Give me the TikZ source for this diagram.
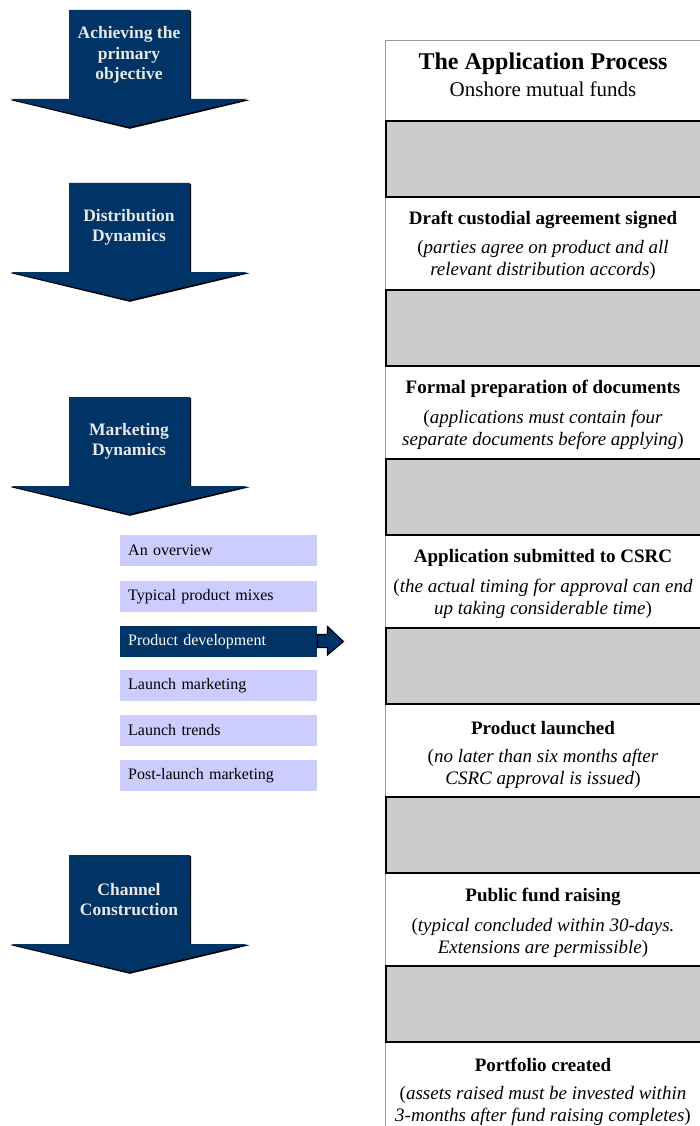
\documentclass[tikz,border=0pt]{standalone}
\usepackage{fontspec}
\setmainfont{Liberation Serif}
\definecolor{navy}{HTML}{003366}
\definecolor{lav}{HTML}{CCCCFF}
\definecolor{boxgray}{HTML}{CCCCCC}
\definecolor{linegray}{HTML}{999999}
\definecolor{arrowtxt}{HTML}{E8E8E8}
\newcommand\navyarrow[2]{%
  \begin{scope}[shift={(0,#1)}]
    \fill[black] (70.5,1.2) -- (191.2,1.2) -- (191.2,90.2) -- (249.5,90.2) -- (129.8,118.8) -- (10.8,90.2) -- (70.5,90.2) -- cycle;
    \fill[navy] (69,0) -- (190,0) -- (190,89) -- (248,89) -- (129,117) -- (10,89) -- (69,89) -- cycle;
  \end{scope}}
\begin{document}
\begin{tikzpicture}[x=1pt,y=-1pt,
  arrowtext/.style={align=center,text=arrowtxt,font=\bfseries\fontsize{17.5}{20.5}\selectfont,inner sep=0pt},
  graybox/.style={draw=black,line width=1.6pt,fill=boxgray},
  steptitle/.style={font=\bfseries\fontsize{19}{22}\selectfont,inner sep=0pt},
  stepdesc/.style={align=center,font=\itshape\fontsize{19}{22}\selectfont,inner sep=0pt},
  menu/.style={anchor=west,fill=lav,minimum height=31pt,text width=181pt,inner xsep=8pt,inner ysep=0pt,align=left,font=\fontsize{16}{18}\selectfont},
  menusel/.style={menu,fill=navy,text=white},
  smallarrow/.style={draw=black,line width=1.2pt,fill=navy,line join=miter}]
\useasboundingbox (0,0) rectangle (700,1126);
\clip (0,0) rectangle (700,1126);
\fill[white] (0,0) rectangle (700,1126);

% left arrows
\navyarrow{10}{}
\node[arrowtext] (a1) at (129,55) {Achieving the\\primary\\objective};
\navyarrow{183}{}
\node[arrowtext] (a2) at (129,227.5) {Distribution\\Dynamics};
\navyarrow{397}{}
\node[arrowtext] (a3) at (129,441.5) {Marketing\\Dynamics};
\navyarrow{855}{}
\node[arrowtext] (a4) at (129,899.5) {Channel\\Construction};

% menu
\node[menu] (m1) at (120,550.5) {An overview};
\node[menu] (m2) at (120,596.5) {Typical product mixes};
\node[menusel] (m3) at (120,641.5) {Product development};
\node[menu] (m4) at (120,685.5) {Launch marketing};
\node[menu] (m5) at (120,730.5) {Launch trends};
\node[menu] (m6) at (120,775.5) {Post-launch marketing};
\draw[smallarrow] (m3.east) ++(0,-7) -- ++(10,0) -- ++(0,-8) -- ++(16,15) -- ++(-16,13.5) -- ++(0,-7.5) -- ++(-10,0) -- cycle;

% right column
\draw[linegray,line width=0.8pt] (385,40) rectangle (710,1140);
\draw[linegray,line width=0.8pt] (385,120) -- (710,120);
\node[font=\bfseries\fontsize{24}{26}\selectfont,inner sep=0pt] (hd) at (543,63.5) {The Application Process};
\node[font=\fontsize{21}{24}\selectfont,inner sep=0pt] (sub) at (543,89) {Onshore mutual funds};

\foreach \k in {0,...,5} {
  \draw[graybox] (386,121+169*\k) rectangle (710,197+169*\k);
}

\node[steptitle] (t1) at (543,220) {Draft custodial agreement signed};
\node[stepdesc] (d1) at (543,260) {\textup{(}parties agree on product and all\\relevant distribution accords\textup{)}};
\node[steptitle] (t2) at (543,389) {Formal preparation of documents};
\node[stepdesc] (d2) at (543,430) {\textup{(}applications must contain four\\separate documents before applying\textup{)}};
\node[steptitle] (t3) at (543,558) {Application submitted to CSRC};
\node[stepdesc] (d3) at (543,599) {\textup{(}the actual timing for approval can end\\up taking considerable time\textup{)}};
\node[steptitle] (t4) at (543,728) {Product launched};
\node[stepdesc] (d4) at (543,769) {\textup{(}no later than six months after\\CSRC approval is issued\textup{)}};
\node[steptitle] (t5) at (543,897) {Public fund raising};
\node[stepdesc] (d5) at (543,938) {\textup{(}typical concluded within 30-days.\\Extensions are permissible\textup{)}};
\node[steptitle] (t6) at (543,1065) {Portfolio created};
\node[stepdesc] (d6) at (543,1105.5) {\textup{(}assets raised must be invested within\\3-months after fund raising completes\textup{)}};
\end{tikzpicture}
\end{document}
